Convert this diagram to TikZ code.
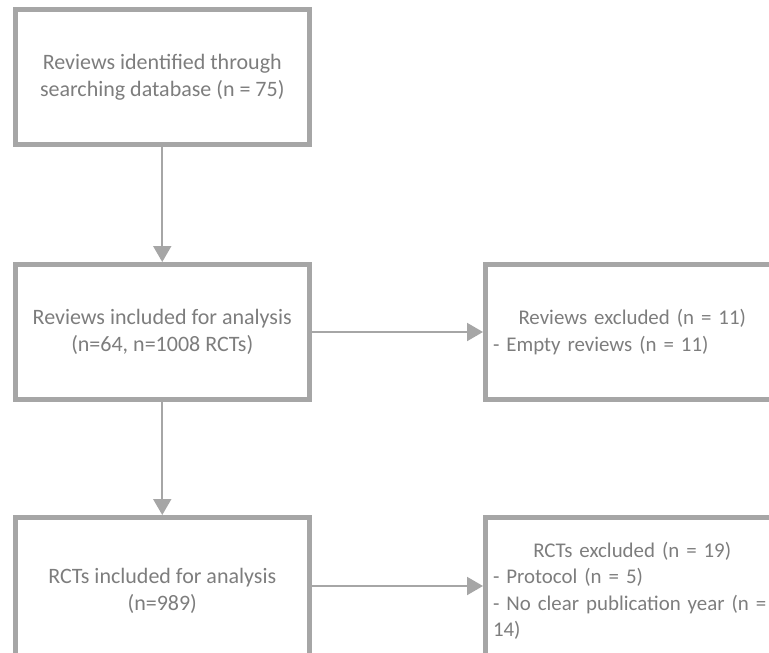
\documentclass[tikz,border=0pt]{standalone}
\usepackage{fontspec}
\setmainfont{Carlito}
\usetikzlibrary{arrows.meta}
\definecolor{linegray}{RGB}{166,166,166}
\definecolor{textgray}{RGB}{125,125,125}
\begin{document}
\begin{tikzpicture}[x=1pt,y=-1pt,
  box/.style={draw=linegray, line width=5pt, rectangle, minimum width=293.5pt,
    minimum height=135pt, inner sep=0pt, text=textgray,
    font=\fontsize{22}{26.8}\selectfont, align=center},
  leftbox/.style={box, text width=278.5pt, align=left, font=\fontsize{20.9}{26.5}\selectfont},
  conn/.style={draw=linegray, line width=2pt, -{Triangle[length=16pt,width=18pt]}}]
\useasboundingbox (0,0) rectangle (769,653);
\clip (0,0) rectangle (769,653);
\node[box] (ident) at (162.25,77) {Reviews identified through\\searching database (n = 75)};
\node[box] (incl) at (162.25,332) {Reviews included for analysis\\(n=64, n=1008 RCTs)};
\node[leftbox] (rexc) at (632.25,332) {\makebox[\linewidth][c]{Reviews excluded (n = 11)}\\\mbox{- Empty reviews (n = 11)}};
\node[box, minimum height=147pt] (rcts) at (162.25,591) {RCTs included for analysis\\(n=989)};
\node[leftbox, minimum height=147pt] (rcexc) at (632.25,591) {\makebox[\linewidth][c]{RCTs excluded (n = 19)}\\\mbox{- Protocol (n = 5)}\\\mbox{- No clear publication year (n =}\\\mbox{14)}};
\draw[conn] (ident.south) -- (incl.north);
\draw[conn] (incl.south) -- (rcts.north);
\draw[conn] (incl.east) -- (rexc.west);
\draw[conn] ([yshift=5pt]rcts.east) -- ([yshift=5pt]rcexc.west);
\end{tikzpicture}
\end{document}
